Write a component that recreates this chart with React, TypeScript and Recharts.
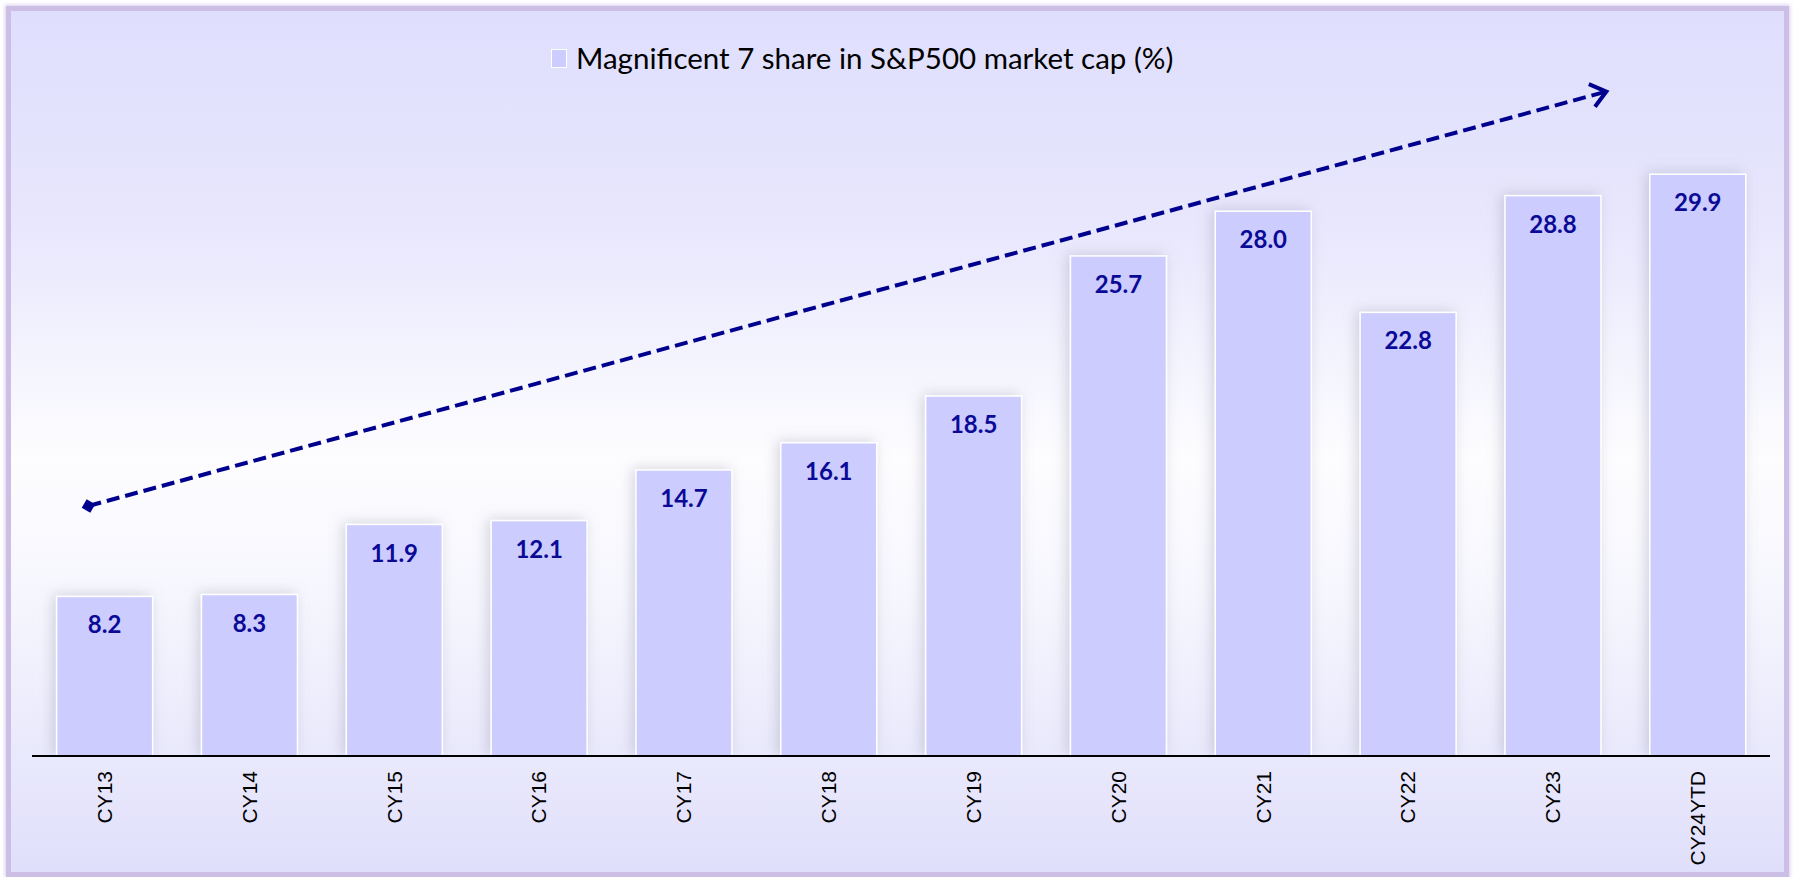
import React from "react";
import { BarChart, Bar, XAxis, YAxis, LabelList, Legend, ReferenceLine } from "recharts";

const categories = ["CY13", "CY14", "CY15", "CY16", "CY17", "CY18", "CY19", "CY20", "CY21", "CY22", "CY23", "CY24YTD"];
const shareValues = [8.2, 8.3, 11.9, 12.1, 14.7, 16.1, 18.5, 25.7, 28.0, 22.8, 28.8, 29.9];
const seriesName = "Magnificent 7 share in S&P500 market cap (%)";
// trend arrow: anchored on two categories, with fractional position offsets (in category widths)
const arrowAnchors = ["CY13", "CY23"];
const arrowStart = { offset: -0.11, y: 12.85 };
const arrowEnd = { offset: 0.37, y: 34.15 };

const data = categories.map((c, i) => ({ name: c, value: shareValues[i] }));

const W = 1795;
const H = 877;

const XTick = (props: any) => {
  const { x, y, payload } = props;
  return (
    <text
      transform={`translate(${x},${y}) rotate(-90)`}
      textAnchor="end"
      dominantBaseline="central"
      fontFamily="'Liberation Sans', Arial, sans-serif"
      fontSize={21}
      fill="#000"
    >
      {payload.value}
    </text>
  );
};

const BarShape = (props: any) => {
  const { x, y, width, height } = props;
  return (
    <rect
      x={x}
      y={y}
      width={width}
      height={height}
      fill="#ccccff"
      stroke="#ffffff"
      strokeWidth={1.5}
      filter="url(#barShadow)"
    />
  );
};

const ArrowShape = (props: any) => {
  const { x1: ax1, y1, x2: ax2, y2 } = props;
  if ([ax1, y1, ax2, y2].some((v) => typeof v !== "number" || isNaN(v))) return <g />;
  const i1 = categories.indexOf(arrowAnchors[0]);
  const i2 = categories.indexOf(arrowAnchors[1]);
  const unit = (ax2 - ax1) / (i2 - i1);
  const x1 = ax1 + arrowStart.offset * unit;
  const x2 = ax2 + arrowEnd.offset * unit;
  const ang = Math.atan2(y2 - y1, x2 - x1);
  const headLen = 19;
  const spread = (38 * Math.PI) / 180;
  const hx1 = x2 - headLen * Math.cos(ang - spread);
  const hy1 = y2 - headLen * Math.sin(ang - spread);
  const hx2 = x2 - headLen * Math.cos(ang + spread);
  const hy2 = y2 - headLen * Math.sin(ang + spread);
  const d = 7;
  const pts = [0, 0.5, 1, 1.5]
    .map((k) => [x1 + d * Math.cos(ang + k * Math.PI), y1 + d * Math.sin(ang + k * Math.PI)].join(","))
    .join(" ");
  return (
    <g>
      <line x1={x1} y1={y1} x2={x2 - 2 * Math.cos(ang)} y2={y2 - 2 * Math.sin(ang)} stroke="#00008f" strokeWidth={4} strokeDasharray="13 6" />
      <polyline points={`${hx1},${hy1} ${x2},${y2} ${hx2},${hy2}`} fill="none" stroke="#00008f" strokeWidth={4} strokeLinejoin="miter" />
      <polygon points={pts} fill="#00008f" />
    </g>
  );
};

const LegendContent = () => (
  <div style={{ display: "flex", alignItems: "center", fontFamily: "Lato, 'Noto Sans', sans-serif", fontSize: 29.5, lineHeight: "34px", color: "#000", whiteSpace: "nowrap" }}>
    <span style={{ display: "inline-block", width: 14, height: 17, background: "#ccccff", border: "1px solid #fff", marginRight: 9 }} />
    <span>{seriesName}</span>
  </div>
);

export default function App() {
  return (
    <div style={{ position: "absolute", left: 0, top: 0, width: W, height: H, overflow: "hidden", background: "#ffffff" }}>
      <div
        style={{
          position: "absolute",
          left: 6,
          top: 6,
          width: W - 12,
          height: H - 6,
          boxSizing: "border-box",
          border: "5px solid #cdbee6",
          boxShadow: "0 0 4px 1px #d8cdee",
          background: "linear-gradient(to bottom, #dfdefd 0%, #e8e7fd 25%, #fdfdff 52%, #f6f6fe 68%, #e0dffb 100%)",
        }}
      />
      <div style={{ position: "absolute", left: 0, top: 0 }}>
        <BarChart width={W} height={H} data={data} margin={{ top: 41, left: 32, right: 25, bottom: 0 }} barCategoryGap="17%">
          <defs>
            <filter id="barShadow" x="-30%" y="-30%" width="160%" height="160%">
              <feDropShadow dx={-3} dy={-1} stdDeviation={7} floodColor="#8a8aa0" floodOpacity={0.35} />
            </filter>
          </defs>
          <XAxis
            dataKey="name"
            axisLine={{ stroke: "#000", strokeWidth: 2 }}
            tickLine={false}
            tick={<XTick />}
            tickMargin={9}
            height={121}
            interval={0}
          />
          <YAxis domain={[0, 35]} allowDataOverflow hide />
          <Legend
            verticalAlign="top"
            height={34}
            content={<LegendContent />}
            wrapperStyle={{ top: 41, left: 551, width: "auto" }}
          />
          <Bar dataKey="value" name={seriesName} shape={<BarShape />} isAnimationActive={false}>
            <LabelList
              dataKey="value"
              position="insideTop"
              offset={20}
              formatter={(v: any) => Number(v).toFixed(1)}
              fill="#0a0a96"
              fontFamily="Lato, 'Noto Sans', sans-serif"
              fontWeight={700}
              fontSize={24}
            />
          </Bar>
          <ReferenceLine
            segment={[
              { x: arrowAnchors[0], y: arrowStart.y },
              { x: arrowAnchors[1], y: arrowEnd.y },
            ]}
            ifOverflow="visible"
            shape={(p: any) => <ArrowShape {...p} />}
          />
        </BarChart>
      </div>
    </div>
  );
}
